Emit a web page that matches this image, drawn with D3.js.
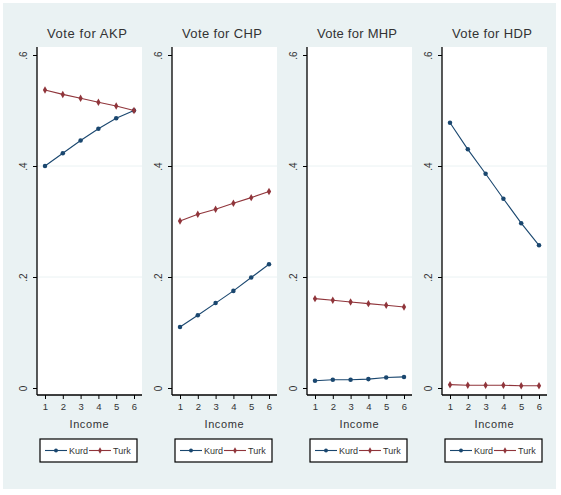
<!DOCTYPE html>
<html>
<head>
<meta charset="utf-8">
<script src="https://cdn.jsdelivr.net/npm/d3@7"></script>
<style>
  body { margin: 0; background: #fff; }
  text { font-family: "Liberation Sans", Arial, sans-serif; }
</style>
</head>
<body>
<script>
"use strict"

// x categories and y ticks
const incomes    = [1, 2, 3, 4, 5, 6]
const yTicks     = [0, 0.2, 0.4, 0.6]
const yTickLabel = ["0", ".2", ".4", ".6"]
const titles     = ["Vote for AKP", "Vote for CHP", "Vote for MHP", "Vote for HDP"]
const groups     = ["Kurd", "Turk"]

// predicted vote shares by income
const kurdAKP = [0.400, 0.423, 0.446, 0.467, 0.486, 0.500]
const turkAKP = [0.537, 0.529, 0.522, 0.515, 0.508, 0.500]
const kurdCHP = [0.110, 0.131, 0.153, 0.175, 0.199, 0.223]
const turkCHP = [0.301, 0.313, 0.322, 0.333, 0.343, 0.354]
const kurdMHP = [0.013, 0.015, 0.015, 0.016, 0.019, 0.020]
const turkMHP = [0.161, 0.158, 0.155, 0.152, 0.149, 0.146]
const kurdHDP = [0.478, 0.430, 0.386, 0.341, 0.297, 0.257]
const turkHDP = [0.006, 0.005, 0.005, 0.005, 0.004, 0.004]

const panels = [
  { title : titles[0], kurd : kurdAKP, turk : turkAKP },
  { title : titles[1], kurd : kurdCHP, turk : turkCHP },
  { title : titles[2], kurd : kurdMHP, turk : turkMHP },
  { title : titles[3], kurd : kurdHDP, turk : turkHDP },
]

const colors = { Kurd : "#1a476f", Turk : "#90353b" }
const ink = "#333"

const W = 561, H = 495
const step = 135, axis0 = 37
const translate = (x, y) => `translate(${x} ${y})`

const svg = d3.select("body").append("svg")
  .attr("width", W)
  .attr("height", H)

// graph region background
svg.append("rect")
  .attr("x", 3).attr("y", 3).attr("width", W - 8).attr("height", 486)
  .attr("fill", "#eaf2f3")

const y = d3.scaleLinear().domain([0, 0.6]).range([388, 55])

panels.forEach((p, i) => {
  const ax = axis0 + step * i
  const x = d3.scaleLinear().domain([1, 6]).range([ax + 8, ax + 97])
  const g = svg.append("g")

  // plot region
  g.append("rect")
    .attr("x", ax).attr("y", 47).attr("width", 105).attr("height", 348)
    .attr("fill", "#fff")

  // grid lines
  g.selectAll(".grid").data(yTicks.slice(1, 3)).enter().append("line")
    .attr("x1", ax).attr("x2", ax + 105)
    .attr("y1", d => y(d)).attr("y2", d => y(d))
    .attr("stroke", "#eaf2f3").attr("stroke-width", 1)

  // title
  g.append("text")
    .attr("x", ax + 50).attr("y", 38)
    .attr("text-anchor", "middle")
    .attr("font-size", 13)
    .attr("textLength", 80)
    .attr("fill", ink)
    .text(p.title)

  // y axis
  const yAxis = g.append("g").attr("transform", translate(ax, 0))
    .call(d3.axisLeft(y).tickValues(yTicks).tickSize(4).tickFormat((d, j) => yTickLabel[j]))
  yAxis.select(".domain").attr("d", `M0,47V395`).attr("stroke", "#000").attr("stroke-width", 1.3)
  yAxis.selectAll(".tick line").attr("stroke", "#000")
  yAxis.selectAll(".tick text")
    .attr("font-size", 10).attr("fill", ink)
    .attr("transform", "rotate(-90)")
    .attr("x", 0).attr("y", -10)
    .attr("dy", 0)
    .attr("text-anchor", "middle")

  // x axis
  const xAxis = g.append("g").attr("transform", translate(0, 395))
    .call(d3.axisBottom(x).tickValues(incomes).tickSize(4).tickFormat(d3.format("d")))
  xAxis.select(".domain").attr("d", `M${ax},0H${ax + 105}`).attr("stroke", "#000").attr("stroke-width", 1.3)
  xAxis.selectAll(".tick line").attr("stroke", "#000")
  xAxis.selectAll(".tick text").attr("font-size", 9.5).attr("fill", ink).attr("y", 8)

  g.append("text")
    .attr("x", ax + 52).attr("y", 428)
    .attr("text-anchor", "middle")
    .attr("font-size", 11)
    .attr("textLength", 39)
    .attr("fill", ink)
    .text("Income")

  // series
  const line = d3.line().x((d, j) => x(incomes[j])).y(d => y(d))
  groups.forEach(grp => {
    const vals = grp === "Kurd" ? p.kurd : p.turk
    g.append("path")
      .attr("d", line(vals))
      .attr("fill", "none")
      .attr("stroke", colors[grp])
      .attr("stroke-width", 1.1)
    g.selectAll(".m" + grp).data(vals).enter().append("path")
      .attr("transform", (d, j) => translate(x(incomes[j]), y(d)))
      .attr("d", d3.symbol().type(grp === "Kurd" ? d3.symbolCircle : d3.symbolDiamond).size(16))
      .attr("fill", colors[grp])
  })

  // legend
  const lg = g.append("g").attr("transform", translate(ax + 3, 439))
  lg.append("rect")
    .attr("width", 97).attr("height", 23)
    .attr("fill", "#fff").attr("stroke", "#000").attr("stroke-width", 1.2)
  groups.forEach((grp, k) => {
    const ox = 5 + k * 44
    lg.append("line")
      .attr("x1", ox).attr("x2", ox + 22).attr("y1", 11.5).attr("y2", 11.5)
      .attr("stroke", colors[grp]).attr("stroke-width", 1.1)
    lg.append("path")
      .attr("transform", translate(ox + 11, 11.5))
      .attr("d", d3.symbol().type(grp === "Kurd" ? d3.symbolCircle : d3.symbolDiamond).size(12))
      .attr("fill", colors[grp])
    lg.append("text")
      .attr("x", ox + 24).attr("y", 15)
      .attr("font-size", 9)
      .attr("fill", ink)
      .text(grp)
  })
})
</script>
</body>
</html>
